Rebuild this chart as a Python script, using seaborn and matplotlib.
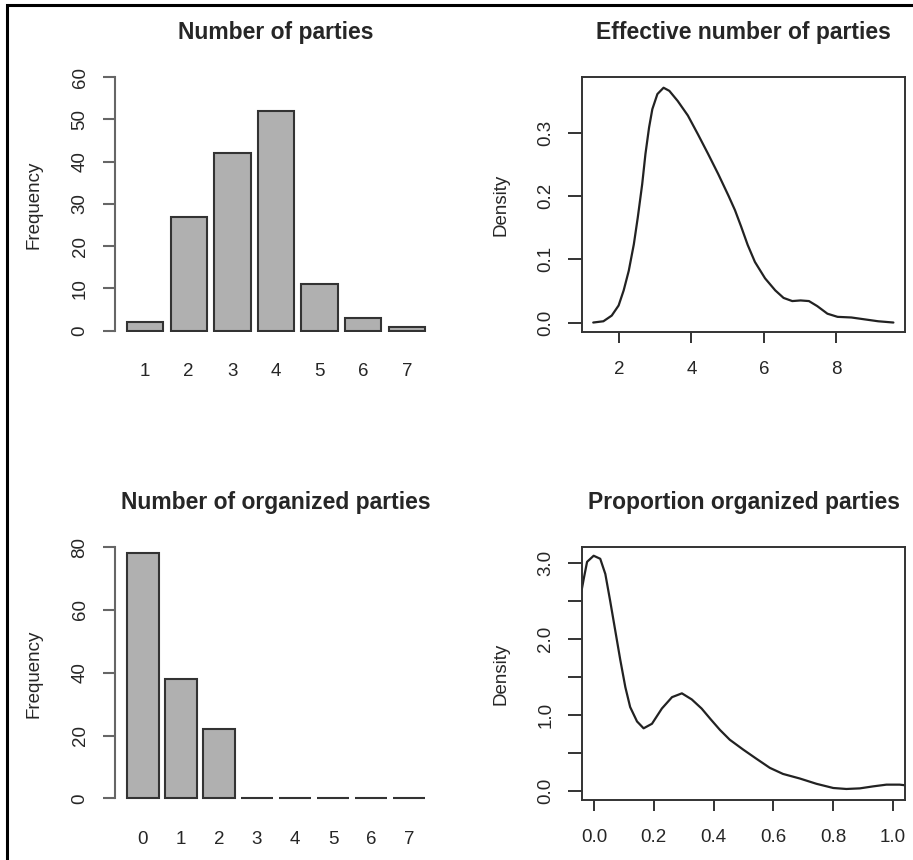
import matplotlib
matplotlib.use('Agg')
import matplotlib.pyplot as plt
import seaborn as sns
from matplotlib.patches import Rectangle

# === Data ===
n_parties = ['1', '2', '3', '4', '5', '6', '7']
n_parties_freq = [2, 27, 42, 52, 11, 3, 1]

n_org = ['0', '1', '2', '3', '4', '5', '6', '7']
n_org_freq = [78, 38, 22, 0, 0, 0, 0, 0]

# density curve of the effective number of parties
enp_x = [1.29, 1.57, 1.80, 1.99, 2.13, 2.27, 2.41, 2.52, 2.64, 2.73, 2.83,
         2.92, 3.06, 3.23, 3.39, 3.62, 3.90, 4.18, 4.46, 4.74, 5.02, 5.20,
         5.37, 5.55, 5.75, 6.03, 6.31, 6.54, 6.78, 7.01, 7.24, 7.47, 7.75,
         8.03, 8.41, 8.78, 9.15, 9.57]
enp_y = [0.0, 0.002, 0.011, 0.027, 0.051, 0.082, 0.124, 0.167, 0.219, 0.267,
         0.309, 0.338, 0.362, 0.372, 0.367, 0.351, 0.328, 0.298, 0.267, 0.235,
         0.201, 0.178, 0.152, 0.123, 0.096, 0.070, 0.051, 0.039, 0.034, 0.035,
         0.034, 0.026, 0.014, 0.009, 0.008, 0.005, 0.002, 0.0]

# density curve of the proportion of organized parties
prop_x = [-0.042, -0.034, -0.023, -0.001, 0.021, 0.038, 0.054, 0.071, 0.088,
          0.105, 0.121, 0.144, 0.166, 0.194, 0.227, 0.261, 0.294, 0.327,
          0.360, 0.390, 0.421, 0.454, 0.499, 0.543, 0.588, 0.632, 0.688,
          0.744, 0.800, 0.844, 0.889, 0.933, 0.978, 1.022, 1.042]
prop_y = [2.62, 2.79, 3.01, 3.09, 3.05, 2.85, 2.50, 2.11, 1.72,
          1.36, 1.10, 0.91, 0.82, 0.88, 1.08, 1.23, 1.28, 1.20,
          1.08, 0.94, 0.80, 0.67, 0.54, 0.42, 0.30, 0.22, 0.16,
          0.09, 0.035, 0.022, 0.030, 0.056, 0.079, 0.079, 0.07]

sns.set_style('white')
plt.rcParams['font.family'] = ['Liberation Sans', 'DejaVu Sans']

W, H = 913, 860
fig = plt.figure(figsize=(W / 100, H / 100), dpi=100)

def axes_px(x0, y0, x1, y1):
    return fig.add_axes([x0 / W, 1 - y1 / H, (x1 - x0) / W, (y1 - y0) / H])

ax_tl = axes_px(115, 77, 437, 332)
ax_tr = axes_px(582, 77, 905, 332)
ax_bl = axes_px(115, 547, 437, 800)
ax_br = axes_px(582, 547, 905, 800)

TICK_FS = 13.5
TITLE_FS = 16.5
BAR_FILL = '#b0b0b0'
BAR_EDGE = '#333333'


def style_bars(ax, title, top, left, right):
    ax.set_title(title, fontsize=TITLE_FS, fontweight='bold', pad=27)
    ax.set_ylabel('Frequency', fontsize=TICK_FS)
    ax.yaxis.set_label_coords(-0.225, 0.5)
    ax.set_xlabel('')
    for s in ['top', 'right', 'bottom']:
        ax.spines[s].set_visible(False)
    ax.spines['left'].set_color('#666666')
    ax.spines['left'].set_linewidth(1.5)
    ax.spines['left'].set_bounds(0, top)
    ax.set_xlim(left, right)
    ax.tick_params(axis='x', length=0, pad=22, labelsize=TICK_FS)
    ax.tick_params(axis='y', left=True, length=9, width=1.5, color='#666666',
                   pad=10, labelsize=TICK_FS, labelrotation=90)
    for lab in ax.get_yticklabels():
        lab.set_va('center')


def style_density(ax, title):
    ax.set_title(title, fontsize=TITLE_FS, fontweight='bold', pad=27)
    ax.set_ylabel('Density', fontsize=TICK_FS)
    ax.yaxis.set_label_coords(-0.225, 0.5)
    ax.set_xlabel('')
    for s in ax.spines.values():
        s.set_visible(True)
        s.set_color('#333333')
        s.set_linewidth(1.4)
    ax.tick_params(axis='x', bottom=True, length=8, width=1.4, color='#333333',
                   pad=13, labelsize=TICK_FS)
    ax.tick_params(axis='y', left=True, length=10, width=1.4, color='#333333',
                   pad=10, labelsize=TICK_FS, labelrotation=90)
    for lab in ax.get_yticklabels():
        lab.set_va('center')


# 1. Number of parties
sns.barplot(x=n_parties, y=n_parties_freq, ax=ax_tl, color=BAR_FILL,
            saturation=1, edgecolor=BAR_EDGE, linewidth=1.5, width=0.833)
ax_tl.set_ylim(-0.3, 60)
ax_tl.set_yticks([0, 10, 20, 30, 40, 50, 60])
style_bars(ax_tl, 'Number of parties', 60, -0.69, 6.69)

# 2. Effective number of parties
sns.lineplot(x=enp_x, y=enp_y, ax=ax_tr, color='#222222', linewidth=1.6)
ax_tr.set_xlim(0.98, 9.89)
ax_tr.set_ylim(-0.015, 0.389)
ax_tr.set_xticks([2, 4, 6, 8])
ax_tr.set_yticks([0.0, 0.1, 0.2, 0.3], ['0.0', '0.1', '0.2', '0.3'])
style_density(ax_tr, 'Effective number of parties')

# 3. Number of organized parties
sns.barplot(x=n_org, y=n_org_freq, ax=ax_bl, color=BAR_FILL,
            saturation=1, edgecolor=BAR_EDGE, linewidth=1.5, width=0.833)
ax_bl.set_ylim(-0.5, 80)
ax_bl.set_yticks([0, 20, 40, 60, 80])
style_bars(ax_bl, 'Number of organized parties', 80, -0.73, 7.73)

# 4. Proportion organized parties
sns.lineplot(x=prop_x, y=prop_y, ax=ax_br, color='#222222', linewidth=1.6)
ax_br.set_xlim(-0.04, 1.04)
ax_br.set_ylim(-0.123, 3.205)
ax_br.set_xticks([0.0, 0.2, 0.4, 0.6, 0.8, 1.0],
                 ['0.0', '0.2', '0.4', '0.6', '0.8', '1.0'])
ax_br.set_yticks([0.0, 0.5, 1.0, 1.5, 2.0, 2.5, 3.0],
                 ['0.0', '', '1.0', '', '2.0', '', '3.0'])
style_density(ax_br, 'Proportion organized parties')

# outer frame (top and left edges visible in the reference)
fig.add_artist(Rectangle((7 / W, -0.1), 1.2, 1.1 - 5 / H,
                         transform=fig.transFigure, fill=False,
                         edgecolor='black', linewidth=2.2))

fig.savefig('out.png', dpi=100)
